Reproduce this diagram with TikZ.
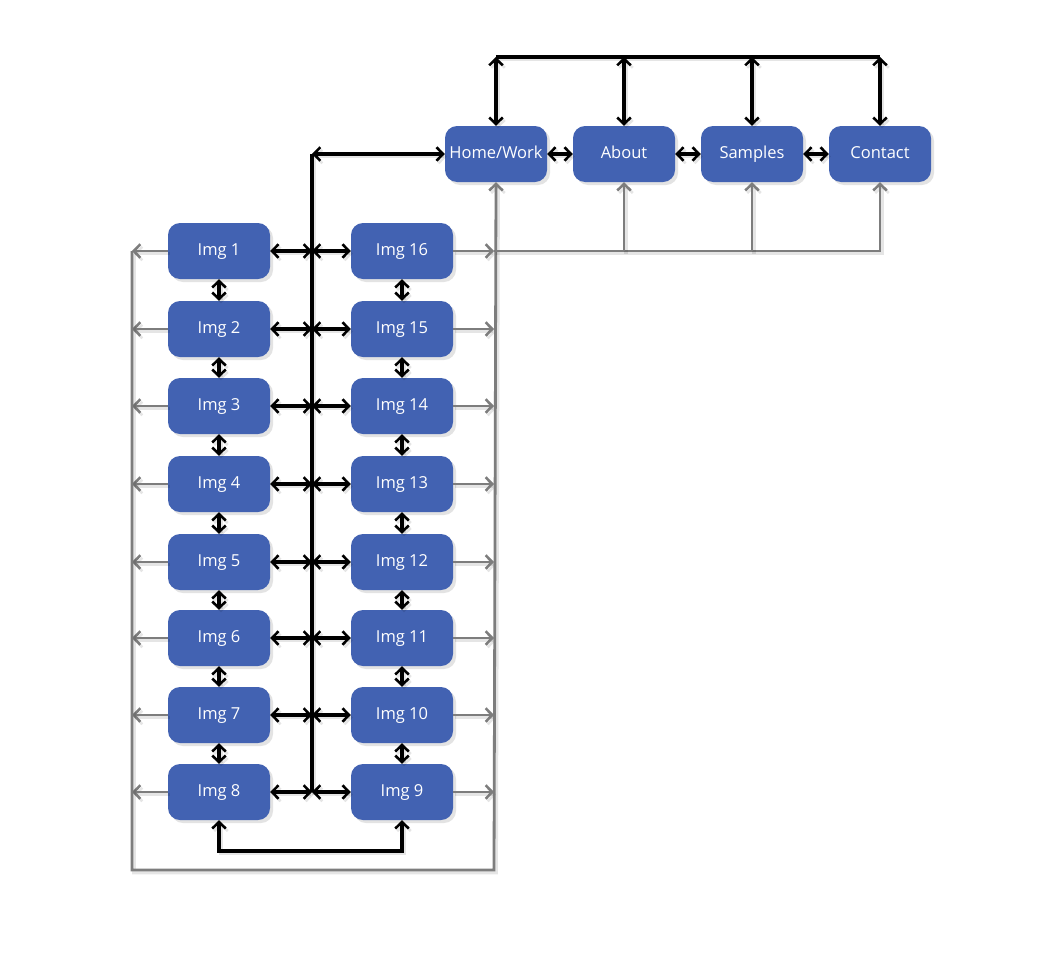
\documentclass[tikz,border=0pt]{standalone}
\usepackage{fontspec}
\setmainfont{Open Sans}
\usetikzlibrary{arrows.meta,shadows}
\definecolor{boxblue}{RGB}{66,98,178}
\definecolor{linegrey}{RGB}{125,125,125}
\tikzset{
  pg/.style={rectangle, rounded corners=12pt, fill=boxblue, text=white,
    minimum width=102pt, minimum height=56pt, inner sep=0pt,
    text height=11.6pt, text depth=3.6pt,
    font=\fontsize{16.5}{19}\selectfont,
    drop shadow={opacity=0.22, shadow xshift=3pt, shadow yshift=-3pt}},
  lshadow/.style={preaction={draw=black, opacity=0.10, line width=3.8pt,
    transform canvas={xshift=2pt,yshift=-2.5pt}}},
  blk/.style={draw=black, line width=3.05pt, lshadow},
  gry/.style={draw=linegrey, line width=2.8pt, lshadow},
  >={Straight Barb[length=6.5pt,width=13.5pt,line width=2.6pt]}
}
\begin{document}
\begin{tikzpicture}[x=1pt,y=-1pt]
\useasboundingbox[fill=white] (0,0) rectangle (1040,961);
% top nodes
\node[pg] (hw) at (496,154) {Home/Work};
\node[pg] (ab) at (624,154) {About};
\node[pg] (sa) at (752,154) {Samples};
\node[pg] (ct) at (880,154) {Contact};
% image nodes
\foreach \i/\y in {1/251,2/329,3/406,4/484,5/562,6/638,7/715,8/792}{
  \node[pg] (L\i) at (219,\y) {Img \i};
}
\foreach \i/\n/\y in {1/16/251,2/15/329,3/14/406,4/13/484,5/12/562,6/11/638,7/10/715,8/9/792}{
  \node[pg] (R\i) at (402,\y) {Img \n};
}
% coordinates
\coordinate (sp0) at (312,154);
\foreach \i in {1,...,8}{
  \coordinate (sp\i) at (312,0 |- L\i);
  \coordinate (gl\i) at (132,0 |- L\i);
  \coordinate (gr\i) at (494,0 |- L\i);
}
\coordinate (gbl) at (132,870);
\coordinate (gbr) at (494,870);
\coordinate (bus) at (0,57);
\coordinate (bbl) at (0,851);
% grey connectors
\foreach \i in {1,...,8}{
  \draw[gry,->] (L\i.west) -- (gl\i);
  \draw[gry,->] (R\i.east) -- (gr\i);
}
\draw[gry,->] (gl1) -- (gbl) -- (gbr) -- (hw.south);
\draw[gry,->] (gr1) -| (ct.south);
\draw[gry,->] (ab.south |- gr1) -- (ab.south);
\draw[gry,->] (sa.south |- gr1) -- (sa.south);
% black connectors
\draw[blk] (sp0) -- (sp8);
\draw[blk,<->] (hw.west) -- (sp0);
\foreach \i in {1,...,8}{
  \draw[blk,<->] (L\i.east) -- (sp\i);
  \draw[blk,<->] (sp\i) -- (R\i.west);
}
\foreach \i/\j in {1/2,2/3,3/4,4/5,5/6,6/7,7/8}{
  \draw[blk,<->] (L\i.south) -- (L\j.north);
  \draw[blk,<->] (R\i.south) -- (R\j.north);
}
\draw[blk,<->] (L8.south) -- (L8.south |- bbl) -- (R8.south |- bbl) -- (R8.south);
\draw[blk,<->] (hw.east) -- (ab.west);
\draw[blk,<->] (ab.east) -- (sa.west);
\draw[blk,<->] (sa.east) -- (ct.west);
\draw[blk] (hw.north |- bus) -- (ct.north |- bus);
\draw[blk,<->] (hw.north |- bus) -- (hw.north);
\draw[blk,<->] (ab.north |- bus) -- (ab.north);
\draw[blk,<->] (sa.north |- bus) -- (sa.north);
\draw[blk,<->] (ct.north |- bus) -- (ct.north);
\end{tikzpicture}
\end{document}
